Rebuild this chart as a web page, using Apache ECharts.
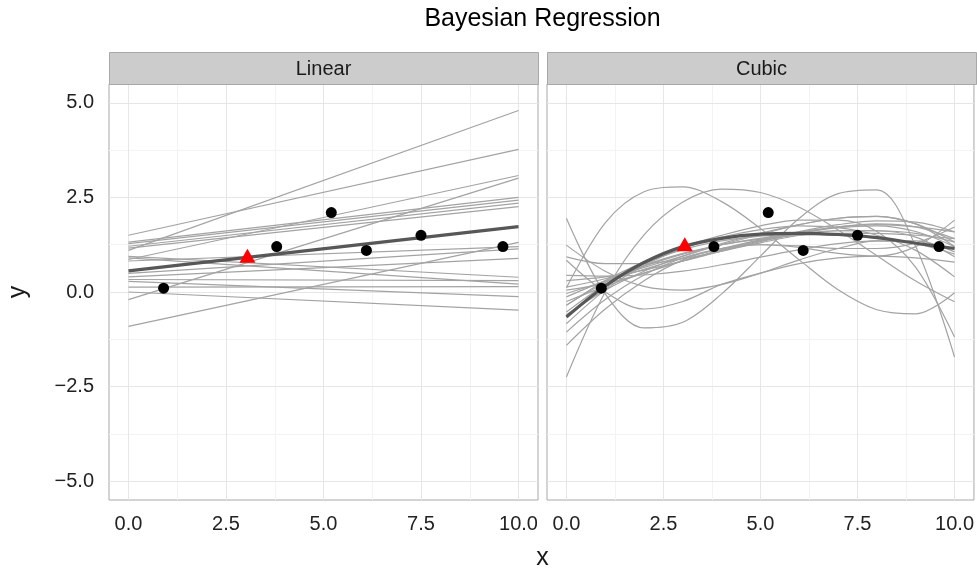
<!DOCTYPE html>
<html>
<head>
<meta charset="utf-8">
<script src="https://cdn.jsdelivr.net/npm/echarts@6/dist/echarts.min.js"></script>
<style>
  html, body { margin: 0; padding: 0; background: #ffffff; }
  #chart { width: 977px; height: 570px; }
</style>
</head>
<body>
<div id="chart"></div>
<script>
// Observed data points (shared by both panels)
const obsX = [0.9, 3.8, 5.2, 6.1, 7.5, 9.6];
const obsY = [0.1, 1.2, 2.1, 1.1, 1.5, 1.2];

// Predicted value at a new x
const predX = 3.05;
const predYLinear = 0.96;
const predYCubic = 1.26;

// Linear model: posterior draws, value at x = 0 and x = 10
const linearAt0  = [1.10, 1.50, -0.20, 0.86, 1.32, 1.28, 1.21, 1.16, -0.91, 0.00, 0.28, 0.13, 0.94, 0.90, 0.82, 0.49, 0.40, 0.33];
const linearAt10 = [4.80, 3.77,  3.01, 3.08, 2.50, 2.43, 2.35, 2.26,  1.31, -0.48, -0.12, 0.14, 0.39, 0.21, 1.20, 1.14, 0.89, 0.30];
const linearMean = [0.56, 1.73];
const linearEnds = [0, 10];

// Cubic model: posterior draws sampled at cubicX
const cubicX = [0, 1, 2, 3, 4, 5, 6, 7, 8, 9, 10];
const cubicDraws = [
  [0.11, 1.83, 2.65, 2.78, 2.39, 1.68, 0.85, 0.06, -0.47, -0.58, -0.02],
  [-2.25, 0.00, 1.51, 2.38, 2.72, 2.63, 2.24, 1.64, 0.96, 0.29, -0.26],
  [1.95, -0.05, -0.95, -0.80, -0.05, 0.95, 1.95, 2.60, 2.70, 1.20, -1.72],
  [-0.35, 0.30, 0.80, 1.20, 1.50, 1.75, 1.90, 1.90, 1.60, 0.65, -1.19],
  [-1.41, -0.45, 0.30, 0.85, 1.15, 1.25, 1.18, 1.02, 0.95, 1.20, 1.90],
  [-1.06, -0.20, 0.45, 0.90, 1.15, 1.25, 1.22, 1.15, 1.15, 1.30, 1.72],
  [-0.84, 0.05, 0.70, 1.15, 1.45, 1.65, 1.75, 1.70, 1.50, 1.10, 0.40],
  [0.44, 0.42, 0.45, 0.55, 0.72, 0.92, 1.12, 1.28, 1.35, 1.28, 1.00],
  [0.84, 0.00, -0.45, -0.25, 0.20, 0.50, 0.75, 0.90, 0.95, 0.90, 0.79],
  [1.24, 0.55, 0.15, 0.05, 0.20, 0.50, 0.85, 1.15, 1.35, 1.35, 1.06],
  [-0.53, 0.20, 0.75, 1.12, 1.35, 1.48, 1.52, 1.50, 1.42, 1.30, 1.15],
  [-0.35, 0.25, 0.70, 1.02, 1.25, 1.40, 1.50, 1.55, 1.55, 1.50, 1.41],
  [-0.13, 0.30, 0.68, 1.00, 1.25, 1.42, 1.55, 1.62, 1.62, 1.55, 1.32],
  [-0.04, 0.28, 0.60, 0.90, 1.15, 1.38, 1.58, 1.72, 1.78, 1.72, 1.59],
  [0.05, 0.22, 0.50, 0.82, 1.12, 1.38, 1.60, 1.78, 1.88, 1.85, 1.59],
  [0.13, 0.35, 0.65, 0.95, 1.25, 1.52, 1.78, 1.95, 2.00, 1.80, 1.32],
  [-0.60, 0.05, 0.55, 0.95, 1.28, 1.55, 1.78, 1.95, 2.00, 1.80, 1.20],
  [0.93, 0.75, 0.75, 0.88, 1.08, 1.30, 1.50, 1.62, 1.62, 1.45, 0.93],
  [-0.25, 0.15, 0.50, 0.82, 1.10, 1.35, 1.55, 1.70, 1.75, 1.60, 1.20],
  [0.30, 0.40, 0.58, 0.82, 1.08, 1.33, 1.55, 1.72, 1.80, 1.72, 1.41]
];
const cubicMean = [-0.66, 0.16, 0.78, 1.20, 1.42, 1.53, 1.55, 1.52, 1.44, 1.29, 1.15];

// Facets and axis breaks
const panelNames = ['Linear', 'Cubic'];
const xTicks = [0, 2.5, 5, 7.5, 10];
const yTicks = [-5, -2.5, 0, 2.5, 5];
const xMinor = [1.25, 3.75, 6.25, 8.75];
const yMinor = [-3.75, -1.25, 1.25, 3.75];

const FONT = '"Liberation Sans", Arial, Helvetica, sans-serif';
const GRAY_DRAW = '#a3a3a3';
const MEAN_COLOR = '#575757';
const CURVE_SMOOTH = 0.34;
const panelLeft = [109, 547];
const panelWidth = 429;
const panelTop = 84;
const panelHeight = 416;
const stripHeight = 32;

const fmt = v => (v < 0 ? '\u2212' : '') + Math.abs(v).toFixed(1);

const chart = echarts.init(document.getElementById('chart'), null, { renderer: 'canvas' });

const grids = panelLeft.map(l => ({
  left: l, top: panelTop, width: panelWidth, height: panelHeight,
  show: true, backgroundColor: '#ffffff', borderColor: '#a8a8a8', borderWidth: 1,
  containLabel: false
}));

const xAxes = panelLeft.map((_, i) => ({
  type: 'value', gridIndex: i, min: -0.5, max: 10.5,
  axisLine: { show: false },
  splitLine: { show: false },
  axisTick: { show: true, customValues: xTicks, length: 5, lineStyle: { color: '#333333', width: 1 } },
  axisLabel: { show: true, customValues: xTicks, formatter: fmt, margin: 14,
    color: '#222222', fontSize: 20, fontFamily: FONT }
}));

const yAxes = panelLeft.map((_, i) => ({
  type: 'value', gridIndex: i, min: -5.5, max: 5.5,
  axisLine: { show: false },
  splitLine: { show: false },
  axisTick: { show: i === 0, customValues: yTicks, length: 5, lineStyle: { color: '#333333', width: 1 } },
  axisLabel: { show: i === 0, customValues: yTicks, formatter: fmt, margin: 15,
    color: '#222222', fontSize: 20, fontFamily: FONT },
  name: i === 0 ? 'y' : '',
  nameLocation: 'middle', nameGap: 78,
  nameTextStyle: { color: '#1a1a1a', fontSize: 25, fontFamily: FONT }
}));

// Background grid lines, drawn as markLines under the data
function gridLineSeries(gi) {
  const minorStyle = { color: '#f3f3f3', width: 1, type: 'solid' };
  const majorStyle = { color: '#e6e6e6', width: 1, type: 'solid' };
  const items = []
    .concat(xMinor.map(v => ({ xAxis: v, lineStyle: minorStyle })))
    .concat(yMinor.map(v => ({ yAxis: v, lineStyle: minorStyle })))
    .concat(xTicks.map(v => ({ xAxis: v, lineStyle: majorStyle })))
    .concat(yTicks.map(v => ({ yAxis: v, lineStyle: majorStyle })));
  return {
    type: 'line', xAxisIndex: gi, yAxisIndex: gi, data: [], silent: true,
    markLine: { symbol: ['none', 'none'], silent: true, z: 1, animation: false,
      label: { show: false }, emphasis: { disabled: true }, data: items }
  };
}

const series = [gridLineSeries(0), gridLineSeries(1)];

// Linear panel: posterior draws
linearAt0.forEach((a, i) => {
  series.push({
    type: 'line', xAxisIndex: 0, yAxisIndex: 0, z: 2, silent: true,
    symbol: 'none', lineStyle: { color: GRAY_DRAW, width: 1.2 },
    data: [[linearEnds[0], a], [linearEnds[1], linearAt10[i]]]
  });
});
series.push({
  type: 'line', xAxisIndex: 0, yAxisIndex: 0, z: 3, silent: true,
  symbol: 'none', lineStyle: { color: MEAN_COLOR, width: 3.2 },
  data: linearEnds.map((x, i) => [x, linearMean[i]])
});

// Cubic panel: posterior draws
cubicDraws.forEach(draw => {
  series.push({
    type: 'line', xAxisIndex: 1, yAxisIndex: 1, z: 2, silent: true,
    symbol: 'none', smooth: CURVE_SMOOTH, lineStyle: { color: GRAY_DRAW, width: 1.2 },
    data: cubicX.map((x, i) => [x, draw[i]])
  });
});
series.push({
  type: 'line', xAxisIndex: 1, yAxisIndex: 1, z: 3, silent: true,
  symbol: 'none', smooth: CURVE_SMOOTH, lineStyle: { color: MEAN_COLOR, width: 3.2 },
  data: cubicX.map((x, i) => [x, cubicMean[i]])
});

// Observations and prediction in each panel
[0, 1].forEach(gi => {
  series.push({
    type: 'scatter', xAxisIndex: gi, yAxisIndex: gi, z: 4, silent: true,
    symbol: 'circle', symbolSize: 11, itemStyle: { color: '#000000', opacity: 1 },
    data: obsX.map((x, i) => [x, obsY[i]])
  });
  series.push({
    type: 'scatter', xAxisIndex: gi, yAxisIndex: gi, z: 5, silent: true,
    symbol: 'triangle', symbolSize: [16, 14], itemStyle: { color: '#ff0000', opacity: 1 },
    data: [[predX, gi === 0 ? predYLinear : predYCubic]]
  });
});

// Facet strips, title and x label
const graphics = [];
panelLeft.forEach((l, i) => {
  graphics.push({
    type: 'rect', left: l, top: panelTop - stripHeight, z: 10,
    shape: { width: panelWidth, height: stripHeight },
    style: { fill: '#cccccc', stroke: '#a8a8a8', lineWidth: 1 }
  });
  graphics.push({
    type: 'text', x: l + panelWidth / 2, y: panelTop - stripHeight / 2 + 1.5, z: 11,
    style: { text: panelNames[i], fill: '#1a1a1a', font: '20px ' + FONT,
      align: 'center', verticalAlign: 'middle' }
  });
});
graphics.push({
  type: 'text', x: (panelLeft[0] + panelLeft[1] + panelWidth) / 2, y: 19, z: 11,
  style: { text: 'Bayesian Regression', fill: '#000000', font: '25px ' + FONT,
    align: 'center', verticalAlign: 'middle' }
});
graphics.push({
  type: 'text', x: (panelLeft[0] + panelLeft[1] + panelWidth) / 2, y: 558, z: 11,
  style: { text: 'x', fill: '#1a1a1a', font: '25px ' + FONT,
    align: 'center', verticalAlign: 'middle' }
});

chart.setOption({
  animation: false,
  backgroundColor: '#ffffff',
  grid: grids,
  xAxis: xAxes,
  yAxis: yAxes,
  series: series,
  graphic: graphics
});
</script>
</body>
</html>
